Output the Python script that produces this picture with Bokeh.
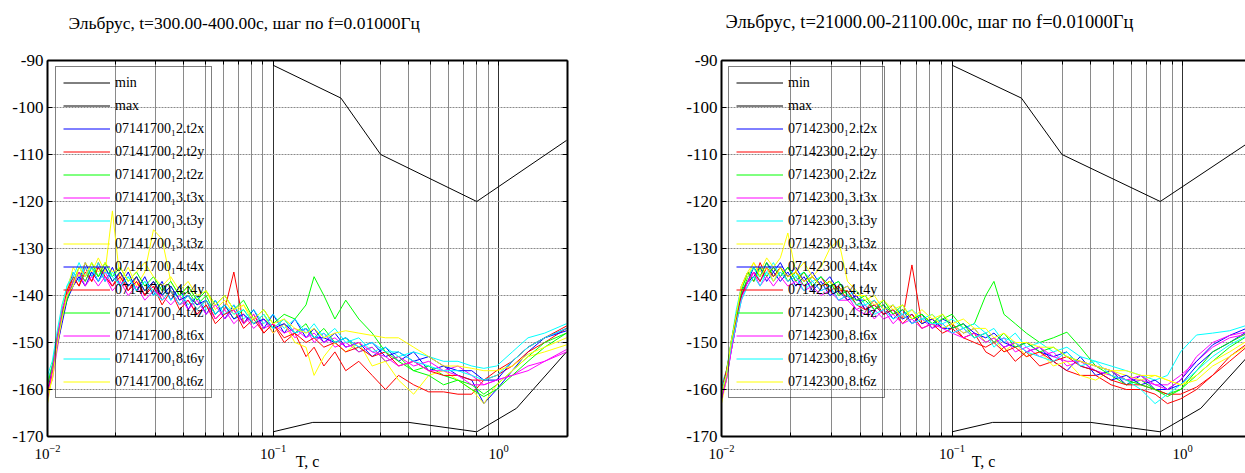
from bokeh.plotting import figure
from bokeh.models import (Range1d, LogAxis, LinearAxis, FixedTicker, Legend,
                          LegendItem, CustomJSTickFormatter)
from bokeh.layouts import row
from bokeh.embed import file_html
from bokeh.resources import INLINE

# ---------------- data ----------------
PERIOD_S = [0.0100, 0.0105, 0.0110, 0.0116, 0.0122, 0.0130, 0.0138, 0.0147, 0.0157, 0.0168,
            0.0180, 0.0194, 0.0210, 0.0228, 0.0248, 0.0270, 0.0295, 0.0322, 0.0352, 0.0385,
            0.0420, 0.0460, 0.0505, 0.0555, 0.0610, 0.0670, 0.0740, 0.0820, 0.0910, 0.1000,
            0.112, 0.125, 0.140, 0.152, 0.168, 0.188, 0.210, 0.240, 0.275, 0.315,
            0.360, 0.420, 0.490, 0.570, 0.660, 0.760, 0.860, 0.980, 1.150, 1.350,
            1.600, 2.000]

MIN_T = [0.1, 0.15, 0.4, 0.8, 1.2, 2.0]
MIN_V = [-169, -167, -167, -169, -164, -152]
MAX_T = [0.1, 0.2, 0.3, 0.8, 2.0]
MAX_V = [-91, -98, -110, -120, -107]

SUFFIXES = ["2.t2x", "2.t2y", "2.t2z", "3.t3x", "3.t3y", "3.t3z",
            "4.t4x", "4.t4y", "4.t4z", "8.t6x", "8.t6y", "8.t6z"]
COLORS = ["#0000FF", "#FF0000", "#00FF00", "#FF00FF", "#00FFFF", "#FFFF00",
          "#0000FF", "#FF0000", "#00FF00", "#FF00FF", "#00FFFF", "#FFFF00"]

LEFT_TITLE = "Эльбрус, t=300.00-400.00с, шаг по f=0.01000Гц"
RIGHT_TITLE = "Эльбрус, t=21000.00-21100.00с, шаг по f=0.01000Гц"
LEFT_PREFIX = "07141700"
RIGHT_PREFIX = "07142300"
X_LABEL = "T, c"

# left panel (t = 300-400 s)
L_T2X = [-161, -157, -151, -144, -139, -135, -137, -133, -136, -134,
         -137, -134, -138, -135, -139, -136, -140, -137, -141, -138,
         -143, -140, -144, -141, -145, -142, -146, -143, -147, -144,
         -148, -145, -149, -147, -150, -148, -151, -150, -153, -151,
         -154, -152, -156, -155, -157, -158, -163, -160, -156, -152,
         -149, -147]
L_T2Y = [-159, -155, -149, -143, -140, -136, -138, -134, -137, -133,
         -136, -138, -135, -139, -136, -140, -137, -141, -139, -142,
         -140, -143, -141, -145, -143, -135, -146, -144, -148, -146,
         -150, -148, -153, -151, -155, -152, -156, -154, -157, -160,
         -157, -159, -160.5, -160.5, -161, -161, -158, -157, -155, -152,
         -150, -147]
L_T2Z = [-162, -157, -150, -145, -141, -137, -134, -136, -133, -136,
         -134, -137, -135, -138, -136, -139, -137, -140, -138, -141,
         -139, -142, -140, -144, -142, -145, -143, -146, -144, -147,
         -145, -148, -146, -149, -147, -150, -149, -152, -151, -154,
         -153, -156, -155, -157, -158, -159, -161, -159, -156, -153,
         -150, -148]
L_T3X = [-160, -158, -152, -145, -140, -138, -135, -137, -134, -137,
         -135, -138, -136, -139, -137, -140, -138, -141, -139, -142,
         -141, -144, -142, -145, -143, -146, -144, -147, -145, -148,
         -146, -149, -147, -150, -148, -151, -150, -152, -151, -154,
         -153, -155, -154, -156, -155, -157, -159, -158, -157, -155,
         -154, -151.5]
L_T3Y = [-158, -155, -149, -143, -138, -135, -137, -134, -136, -133,
         -137, -135, -138, -136, -139, -137, -140, -138, -141, -139,
         -142, -140, -143, -141, -144, -142, -145, -143, -146, -144,
         -147, -145, -148, -146, -149, -147, -150, -149, -152, -151,
         -153, -152, -153, -154, -154, -155, -155.5, -155, -152, -149,
         -148, -146]
L_T3Z = [-163, -157, -150, -142, -139, -134, -136, -133, -135, -132,
         -135, -122, -137, -134, -138, -135, -126, -128, -137, -140,
         -138, -141, -139, -143, -141, -144, -142, -146, -144, -148,
         -146, -150, -151, -157, -153, -150, -152, -150, -155, -154,
         -158, -161, -157, -156, -158, -160, -163, -159, -156, -153,
         -152, -150.5]
L_T4X = [-160, -156, -151, -146, -141, -138, -136, -138, -135, -137,
         -134, -137, -135, -138, -136, -139, -137, -140, -138, -141,
         -140, -142, -141, -144, -142, -145, -144, -146, -145, -147,
         -146, -148, -147, -149, -149, -150, -149, -151, -150, -153,
         -152, -154, -153, -155, -156, -156, -158, -158, -154, -151,
         -149, -147.5]
L_T4Y = [-161, -156, -149, -144, -139, -136, -138, -135, -137, -134,
         -136, -138, -136, -139, -137, -140, -138, -142, -139, -143,
         -141, -144, -142, -146, -144, -143, -147, -145, -148, -146,
         -149, -148, -150, -149, -151, -150, -152, -151, -153, -152,
         -155, -154, -156, -157, -157, -158, -158, -156, -154, -151,
         -149, -146.5]
L_T4Z = [-159, -155, -150, -144, -141, -137, -135, -137, -134, -136,
         -133, -136, -134, -137, -135, -138, -136, -139, -137, -140,
         -138, -141, -139, -142, -140, -143, -141, -145, -143, -146,
         -144, -145, -142, -136, -140, -145, -141, -145, -148, -152,
         -154, -156, -157, -159, -158, -160, -161.5, -160, -157, -154,
         -151, -148]
L_T6X = [-162, -156, -150, -143, -140, -137, -135, -138, -136, -138,
         -136, -139, -137, -140, -138, -141, -139, -140, -142, -140,
         -143, -141, -144, -142, -145, -143, -146, -144, -147, -146,
         -148, -147, -149, -148, -150, -149, -151, -150, -152, -153,
         -155, -154, -156, -156, -157, -159, -159, -158, -157, -156,
         -154, -152]
L_T6Y = [-157, -154, -148, -142, -138, -136, -133, -136, -134, -137,
         -135, -136, -138, -136, -139, -137, -139, -141, -139, -142,
         -140, -143, -141, -144, -142, -144, -143, -146, -144, -147,
         -145, -148, -147, -149, -148, -150, -149, -151, -150, -152,
         -152, -154, -155, -156, -156, -157, -158, -157, -154, -151,
         -149, -147]
L_T6Z = [-161, -158, -151, -145, -140, -138, -134, -136, -133, -135,
         -133, -135, -134, -137, -135, -133, -136, -138, -136, -139,
         -137, -140, -139, -142, -140, -143, -142, -145, -143, -146,
         -145, -147, -148, -147, -149, -148, -147.5, -148, -148.5, -149,
         -149, -151, -153, -155, -155, -155.5, -156, -156, -155, -152.5,
         -151, -149]

# right panel (t = 21000-21100 s)
R_T2X = [-162, -158, -152, -146, -139, -137, -134, -136, -133, -135,
         -133, -136, -134, -137, -135, -138, -136, -139, -138, -141,
         -141, -143, -142, -145, -143, -146, -144, -147, -145, -146,
         -148, -147, -150, -149, -151, -150, -152, -151, -154, -156,
         -153, -157, -156, -159, -157, -160, -160, -159, -155, -152,
         -150, -147]
R_T2Y = [-160, -157, -150, -144, -138, -135, -137, -133, -136, -134,
         -136, -134, -137, -135, -138, -136, -139, -138, -141, -140,
         -143, -141, -144, -142, -145, -133.5, -146, -145, -147, -146,
         -149, -148, -152, -153, -151, -154, -152, -155, -154, -156,
         -157, -157, -159, -160, -160, -161, -163, -162, -160, -157,
         -153, -149.5]
R_T2Z = [-161, -156, -151, -145, -140, -136, -134, -136, -133, -136,
         -134, -137, -135, -138, -136, -138, -137, -140, -139, -142,
         -141, -143, -142, -144, -143, -145, -144, -146, -145, -144,
         -147, -146, -140, -137, -144, -146, -148, -150, -149, -147.8,
         -151, -155, -157, -159, -158, -160, -161, -160, -157, -154,
         -151, -148]
R_T3X = [-161, -157, -152, -146, -140, -138, -135, -137, -134, -137,
         -135, -137, -136, -138, -137, -139, -138, -141, -140, -143,
         -142, -145, -143, -146, -144, -146, -145, -147, -146, -148,
         -147, -149, -148, -150, -149, -152, -151, -153, -152, -155,
         -154, -156, -157, -158, -158, -159, -159, -157, -154, -151,
         -149, -148]
R_T3Y = [-159, -156, -150, -143, -138, -136, -134, -137, -135, -133,
         -136, -134, -136, -135, -137, -136, -138, -137, -140, -139,
         -142, -141, -143, -142, -144, -143, -145, -144, -146, -145,
         -147, -146, -148, -147, -150, -148, -151, -150, -152, -151,
         -153, -154, -155, -156, -157, -158, -157, -152, -148.4, -148,
         -147.5, -146]
R_T3Z = [-163, -158, -151, -145, -138, -136, -133, -135, -132, -134,
         -132, -126.7, -135, -133, -136, -134, -130, -128.2, -137, -139,
         -141, -140, -143, -142, -145, -143, -146, -144, -147, -146,
         -148, -147, -150, -149, -152, -150, -153, -152, -155, -154,
         -157, -158, -156, -157, -158, -157, -158, -159, -157, -154,
         -152, -149]
R_T4X = [-162, -157, -151, -144, -140, -137, -136, -134, -137, -135,
         -137, -135, -138, -136, -139, -137, -140, -139, -141, -140,
         -143, -142, -144, -143, -145, -144, -146, -145, -147, -147,
         -146, -148, -149, -148, -150, -151, -150, -152, -153, -152,
         -155, -156, -158, -157, -159, -158, -160, -158, -154, -150.5,
         -148.5, -146.5]
R_T4Y = [-160, -156, -151, -145, -140, -137, -135, -137, -134, -136,
         -134, -136, -135, -137, -136, -138, -137, -139, -139, -142,
         -143, -142, -144, -143, -146, -144, -147, -146, -148, -147,
         -149, -150, -151, -150, -152, -151, -153, -152, -154, -153,
         -155, -156, -158, -159, -159, -160, -161, -161, -159.5, -157,
         -154, -150]
R_T4Z = [-161, -157, -150, -144, -139, -135, -137, -134, -136, -134,
         -136, -134, -137, -135, -138, -136, -138, -137, -140, -141,
         -140, -143, -141, -144, -142, -145, -144, -146, -144, -147,
         -146, -149, -148, -150, -148, -151, -150, -152, -151, -153,
         -154, -155, -156, -158, -159, -160, -161.5, -160, -156, -152,
         -150, -147.5]
R_T6X = [-162, -158, -152, -146, -141, -137, -135, -138, -136, -138,
         -136, -138, -137, -139, -138, -140, -139, -141, -141, -143,
         -144, -143, -145, -144, -146, -145, -147, -146, -147, -148,
         -149, -148, -150, -149, -151, -150, -152, -151, -153, -154,
         -154, -155, -156, -158, -157, -159, -160, -158, -153, -150,
         -148.5, -147.5]
R_T6Y = [-160, -157, -151, -146, -141, -138, -136, -138, -135, -137,
         -135, -137, -136, -139, -137, -139, -138, -141, -140, -142,
         -142, -144, -143, -145, -144, -146, -145, -146, -146, -148,
         -147, -149, -148, -151, -149, -150, -152, -153, -154, -152,
         -155, -154, -157, -158, -160, -163, -161, -159, -156, -153,
         -150.5, -148]
R_T6Z = [-161, -157, -150, -144, -138, -135, -133, -136, -134, -137,
         -134, -136, -135, -137, -136, -138, -137, -139, -138, -140,
         -140, -142, -141, -143, -142, -145, -143, -145, -144, -146,
         -145, -147, -147, -149, -148, -150, -150, -151, -151, -153,
         -154, -155, -156, -156, -157, -157, -158, -159, -158, -155,
         -153, -150]

LEFT_SERIES = [L_T2X, L_T2Y, L_T2Z, L_T3X, L_T3Y, L_T3Z,
               L_T4X, L_T4Y, L_T4Z, L_T6X, L_T6Y, L_T6Z]
RIGHT_SERIES = [R_T2X, R_T2Y, R_T2Z, R_T3X, R_T3Y, R_T3Z,
                R_T4X, R_T4Y, R_T4Z, R_T6X, R_T6Y, R_T6Z]

DECADES = [0.01, 0.1, 1.0]
MINOR = [0.02, 0.03, 0.04, 0.05, 0.06, 0.07, 0.08, 0.09,
         0.2, 0.3, 0.4, 0.5, 0.6, 0.7, 0.8, 0.9]
Y_TICKS = [-170, -160, -150, -140, -130, -120, -110, -100, -90]
Y_GRID = [-160, -150, -140, -130, -120, -110, -100]

SERIF = "Liberation Serif"


def blank():
    return CustomJSTickFormatter(code="return ''")


def build_panel(title, title_size, prefix, series, width, mb_left, mb_right, mb_top,
                x_end, title_offset, title_lift, legend_loc, right_axis):
    p = figure(width=width, height=473, x_axis_type="log", title=title,
               x_range=Range1d(0.01, x_end), y_range=Range1d(-170, -90),
               output_backend="svg", toolbar_location=None,
               min_border_left=mb_left, min_border_right=mb_right,
               min_border_top=mb_top, min_border_bottom=37,
               outline_line_color=None)

    p.title.text_font = SERIF
    p.title.text_font_size = title_size
    p.title.text_font_style = "normal"
    p.title.text_color = "black"
    p.title.align = "left"
    p.title.offset = title_offset
    p.title.standoff = 6

    xt = FixedTicker(ticks=DECADES, minor_ticks=MINOR)
    yt = FixedTicker(ticks=Y_TICKS)

    xa = p.xaxis[0]
    xa.ticker = xt
    xa.major_tick_in = 5
    xa.major_tick_out = 0
    xa.minor_tick_in = 4
    xa.minor_tick_out = 0
    xa.axis_line_width = 2
    xa.major_label_text_font = SERIF
    xa.major_label_text_font_size = "15px"
    xa.major_label_text_color = "black"
    xa.major_label_standoff = 8
    xa.axis_label = X_LABEL
    xa.axis_label_text_font = SERIF
    xa.axis_label_text_font_size = "16px"
    xa.axis_label_text_font_style = "normal"
    xa.axis_label_text_color = "black"
    xa.axis_label_standoff = -9

    ya = p.yaxis[0]
    ya.ticker = yt
    ya.formatter = CustomJSTickFormatter(code="return tick.toFixed(0)")
    ya.major_tick_in = 5
    ya.major_tick_out = 0
    ya.minor_tick_line_color = None
    ya.axis_line_width = 2
    ya.major_label_text_font = SERIF
    ya.major_label_text_font_size = "17px"
    ya.major_label_text_color = "black"
    ya.major_label_standoff = 4

    # top frame edge; a blank axis-label band lifts the title away from the frame
    top = LogAxis(ticker=xt, formatter=blank(), major_tick_in=5, major_tick_out=0,
                  minor_tick_in=4, minor_tick_out=0, axis_line_width=2,
                  major_label_standoff=0, axis_label=" ",
                  axis_label_text_font_size="6px", axis_label_standoff=title_lift)
    p.add_layout(top, "above")
    if right_axis:
        ra = LinearAxis(ticker=yt, formatter=blank(), major_tick_in=5,
                        major_tick_out=0, minor_tick_line_color=None,
                        axis_line_width=2, major_label_standoff=0)
        p.add_layout(ra, "right")

    p.xgrid.ticker = xt
    p.xgrid.grid_line_color = "#303030"
    p.xgrid.grid_line_width = 1
    p.xgrid.minor_grid_line_color = "#8a8a8a"
    p.xgrid.minor_grid_line_width = 1
    p.ygrid.ticker = FixedTicker(ticks=Y_GRID)
    p.ygrid.grid_line_color = "#8a8a8a"
    p.ygrid.grid_line_dash = "2 1"

    r_min = p.line(MIN_T, MIN_V, line_color="black", line_width=1)
    r_max = p.line(MAX_T, MAX_V, line_color="black", line_width=1)
    items = [LegendItem(label="min", renderers=[r_min]),
             LegendItem(label="max", renderers=[r_max])]
    for suffix, color, vals in zip(SUFFIXES, COLORS, series):
        r = p.line(PERIOD_S, vals, line_color=color, line_width=1)
        items.append(LegendItem(label=prefix + "\u2081" + suffix, renderers=[r]))

    leg = Legend(items=items, location=legend_loc, border_line_color="black",
                 border_line_width=1.5, background_fill_alpha=0,
                 glyph_width=47, glyph_height=17, label_height=17, spacing=6,
                 padding=7, label_standoff=5, label_text_font=SERIF,
                 label_text_font_size="14px", label_text_color="black", margin=0)
    p.add_layout(leg)
    return p


left = build_panel(LEFT_TITLE, "17.5px", LEFT_PREFIX, LEFT_SERIES, width=628, mb_left=47,
                   mb_right=61, mb_top=60, x_end=2.02, title_offset=21, title_lift=16,
                   legend_loc=(8, 38), right_axis=True)
right = build_panel(RIGHT_TITLE, "18.5px", RIGHT_PREFIX, RIGHT_SERIES, width=617, mb_left=93,
                    mb_right=0, mb_top=57, x_end=1.875, title_offset=4, title_lift=17,
                    legend_loc=(7, 38), right_axis=False)

layout = row(left, right)
open("out.html", "w").write(file_html(layout, INLINE))
